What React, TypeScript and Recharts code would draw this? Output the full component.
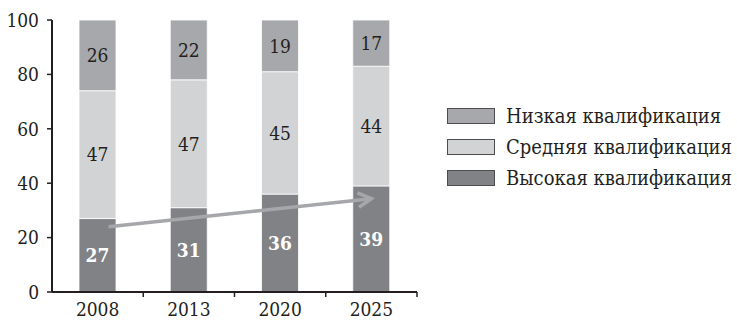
import { BarChart, Bar, XAxis, YAxis, Legend, LabelList, ReferenceLine } from "recharts";

const years = ["2008", "2013", "2020", "2025"];
const lowSkill = [26, 22, 19, 17];
const midSkill = [47, 47, 45, 44];
const highSkill = [27, 31, 36, 39];
const yTicks = [0, 20, 40, 60, 80, 100];
// trend arrow drawn over the "high" segments (start / end values)
const trendStart = 23.6;
const trendEnd = 34.3;

const seriesNames = {
  low: "Низкая квалификация",
  mid: "Средняя квалификация",
  high: "Высокая квалификация",
};

const COLORS = { low: "#a7a8ab", mid: "#d1d3d4", high: "#808285" };
const FONT = '"DejaVu Serif Condensed", "DejaVu Serif", serif';
const FS = 19;
const INK = "#231f20";
const PLOT_BOTTOM = 292;

const data = years.map((year, i) => ({
  year,
  high: highSkill[i],
  mid: midSkill[i],
  low: lowSkill[i],
}));

function YearTick(props: any) {
  const { x, y, payload, width, visibleTicksCount } = props;
  const half = width / visibleTicksCount / 2;
  return (
    <g>
      <line x1={x + half} y1={PLOT_BOTTOM} x2={x + half} y2={PLOT_BOTTOM + 5} stroke={INK} strokeWidth={1.5} />
      <text x={x} y={y} dy="0.71em" textAnchor="middle" fill={INK} fontSize={FS} style={{ fontFamily: FONT }}>
        {payload.value}
      </text>
    </g>
  );
}

function TrendArrow(props: any) {
  const { x1, y1, x2, y2 } = props;
  if (x1 == null || x2 == null) return null;
  // start a bit inside the first bar
  const t = 0.04;
  const sx = x1 + (x2 - x1) * t;
  const sy = y1 + (y2 - y1) * t;
  const ang = Math.atan2(y2 - y1, x2 - x1);
  const len = 15;
  const spread = 0.5;
  const ax = x2 - len * Math.cos(ang - spread);
  const ay = y2 - len * Math.sin(ang - spread);
  const bx = x2 - len * Math.cos(ang + spread);
  const by = y2 - len * Math.sin(ang + spread);
  return (
    <g stroke="#a6a7aa" strokeWidth={3.5} fill="none" strokeLinecap="butt">
      <line x1={sx} y1={sy} x2={x2} y2={y2} />
      <polyline points={`${ax},${ay} ${x2},${y2} ${bx},${by}`} />
    </g>
  );
}

function SkillLegend() {
  const rows: Array<keyof typeof seriesNames> = ["low", "mid", "high"];
  return (
    <div style={{ fontFamily: FONT }}>
      {rows.map((k) => (
        <div key={k} style={{ display: "flex", alignItems: "center", height: 31 }}>
          <div
            style={{
              width: 46,
              height: 14,
              background: COLORS[k],
              border: "1px solid #4d4d4f",
            }}
          />
          <span style={{ marginLeft: 11, fontSize: 20, color: INK, whiteSpace: "nowrap" }}>{seriesNames[k]}</span>
        </div>
      ))}
    </div>
  );
}

export default function App() {
  return (
    <div style={{ position: "absolute", left: 0, top: 0 }}>
      <BarChart width={737} height={320} data={data} margin={{ top: 20, right: 320, left: 0, bottom: 0 }} barSize={37}>
        <XAxis
          dataKey="year"
          height={28}
          axisLine={{ stroke: INK, strokeWidth: 2 }}
          tickLine={false}
          tickSize={5}
          tickMargin={6}
          tick={<YearTick />}
          interval={0}
        />
        <YAxis
          width={52}
          domain={[0, 100]}
          ticks={yTicks}
          axisLine={{ stroke: INK, strokeWidth: 2 }}
          tickLine={{ stroke: INK, strokeWidth: 1.5 }}
          tickSize={5}
          tickMargin={8}
          tick={{ fill: INK, fontSize: FS, style: { fontFamily: FONT } }}
        />
        <Legend
          layout="horizontal"
          verticalAlign="middle"
          align="center"
          wrapperStyle={{ left: 447, top: 100, width: 290 }}
          content={<SkillLegend />}
        />
        <Bar dataKey="high" stackId="s" fill={COLORS.high} stroke="#ffffff" strokeWidth={0.8} isAnimationActive={false}>
          <LabelList dataKey="high" position="center" fill="#ffffff" fontSize={FS} fontWeight="bold" style={{ fontFamily: FONT }} />
        </Bar>
        <Bar dataKey="mid" stackId="s" fill={COLORS.mid} stroke="#ffffff" strokeWidth={0.8} isAnimationActive={false}>
          <LabelList dataKey="mid" position="center" fill={INK} fontSize={FS} style={{ fontFamily: FONT }} />
        </Bar>
        <Bar dataKey="low" stackId="s" fill={COLORS.low} stroke="#ffffff" strokeWidth={0.8} isAnimationActive={false}>
          <LabelList dataKey="low" position="center" fill={INK} fontSize={FS} style={{ fontFamily: FONT }} />
        </Bar>
        <ReferenceLine
          segment={[
            { x: years[0], y: trendStart },
            { x: years[years.length - 1], y: trendEnd },
          ]}
          shape={<TrendArrow />}
          ifOverflow="visible"
        />
      </BarChart>
    </div>
  );
}
